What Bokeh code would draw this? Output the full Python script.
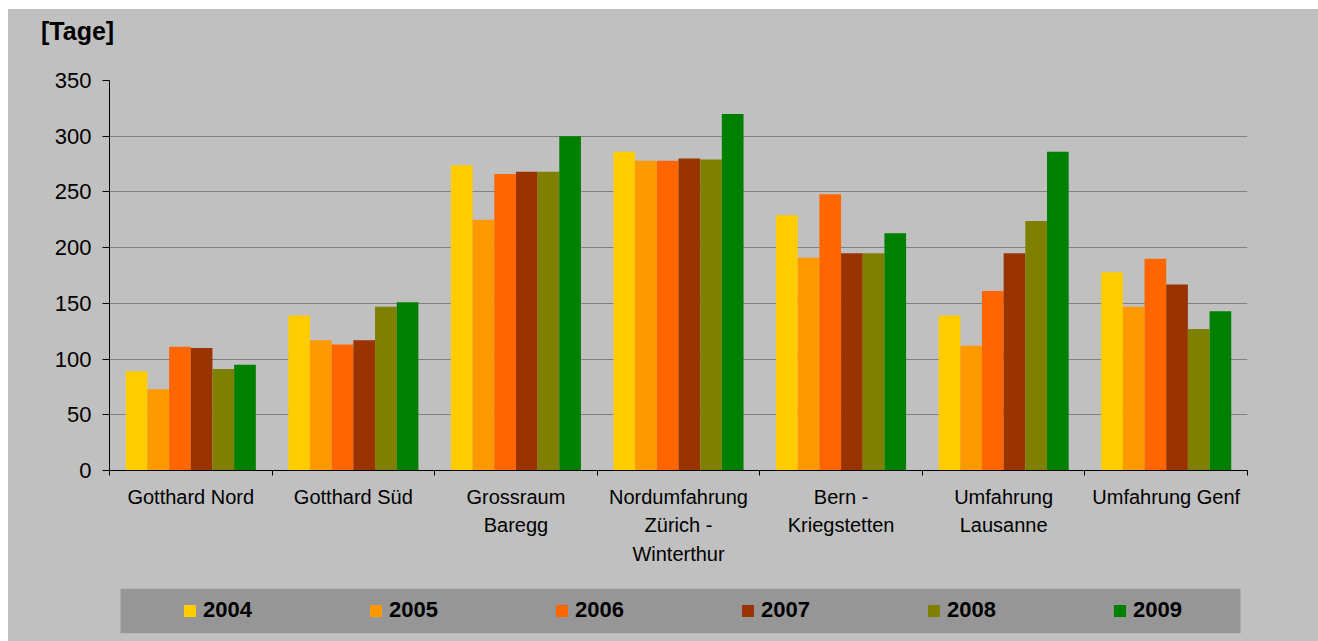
from bokeh.plotting import figure
from bokeh.models import (Range1d, FixedTicker, Div, Legend, LegendItem, BoxAnnotation,
                          Spacer, ColumnDataSource)
from bokeh.layouts import column, row
from bokeh.embed import file_html
from bokeh.resources import INLINE

# Road sections (x categories)
sections = ["Gotthard Nord", "Gotthard Süd", "Grossraum\nBaregg",
            "Nordumfahrung\nZürich -\nWinterthur", "Bern -\nKriegstetten",
            "Umfahrung\nLausanne", "Umfahrung Genf"]

years = ["2004", "2005", "2006", "2007", "2008", "2009"]

# Days per year and section
days_2004 = [89, 139, 274, 286, 229, 139, 178]
days_2005 = [73, 117, 225, 278, 191, 112, 147]
days_2006 = [111, 113, 266, 278, 248, 161, 190]
days_2007 = [110, 117, 268, 280, 195, 195, 167]
days_2008 = [91, 147, 268, 279, 195, 224, 127]
days_2009 = [95, 151, 300, 320, 213, 286, 143]

y_ticks = [0, 50, 100, 150, 200, 250, 300, 350]

series = [days_2004, days_2005, days_2006, days_2007, days_2008, days_2009]
colors = ["#FFCC00", "#FF9900", "#FF6600", "#993300", "#808000", "#008000"]

FONT = "Liberation Sans"
BG = "#C0C0C0"

n_sec = len(sections)
n_yr = len(years)
bar_w = 0.8 / n_yr
centers = [i + 0.5 for i in range(n_sec)]
edges = list(range(n_sec + 1))

W = 1310

# unit caption strip above the chart
header = Div(text=('<div style="font-family: \'Liberation Sans\', Arial, sans-serif; '
                   'font-size: 25px; font-weight: bold; color: black; line-height: normal; '
                   'margin: 8px 0 0 33px; white-space: nowrap;">[Tage]</div>'),
             width=W, height=59, margin=0, styles={"background-color": BG})

p = figure(width=W, height=512, x_range=Range1d(0, n_sec), y_range=Range1d(0, 350),
           output_backend="svg", toolbar_location=None,
           background_fill_color=None, border_fill_color=BG, outline_line_color=None,
           min_border_left=101, min_border_right=71, min_border_top=12, min_border_bottom=110)

# names centred under each group, short ticks on the group boundaries
xa = p.xaxis[0]
xa.ticker = FixedTicker(ticks=centers, minor_ticks=edges)
xa.major_label_overrides = {c: s for c, s in zip(centers, sections)}
xa.axis_line_color = "black"
xa.major_tick_line_color = None
xa.major_tick_out = 0
xa.major_tick_in = 0
xa.minor_tick_line_color = "black"
xa.minor_tick_out = 5
xa.minor_tick_in = 0
xa.major_label_standoff = 10
xa.major_label_text_font = FONT
xa.major_label_text_font_size = "20px"
xa.major_label_text_color = "black"
xa.major_label_text_line_height = 1.3

ya = p.yaxis[0]
ya.ticker = FixedTicker(ticks=y_ticks)
ya.major_label_text_font = FONT
ya.major_label_text_font_size = "22px"
ya.major_label_text_color = "black"
ya.major_label_standoff = 11
ya.major_tick_out = 7
ya.major_tick_in = 0
ya.minor_tick_line_color = None
ya.axis_line_color = "black"
ya.major_tick_line_color = "black"

p.xgrid.grid_line_color = None
p.ygrid.grid_line_color = "#808080"
p.ygrid.grid_line_width = 1

for i, (s, c) in enumerate(zip(series, colors)):
    off = -0.4 + bar_w / 2 + i * bar_w
    src = ColumnDataSource({"x": [x + off for x in centers], "top": s})
    p.vbar(x="x", top="top", width=bar_w, source=src, fill_color=c, line_color=None)

# legend strip below the chart
q = figure(width=W, height=61, x_range=Range1d(0, 1), y_range=Range1d(0, 1),
           output_backend="svg", toolbar_location=None,
           background_fill_color=None, border_fill_color=BG, outline_line_color=None,
           min_border_left=101, min_border_right=71, min_border_top=8, min_border_bottom=8)
q.axis.visible = False
q.grid.visible = False
q.add_layout(BoxAnnotation(left=11 / 1138, right=1131 / 1138, fill_color="#969696",
                           fill_alpha=1, line_color=None, level="underlay"))
items = []
for y, c in zip(years, colors):
    # swatch carriers kept outside the visible range
    r = q.vbar(x=[-1], top=[0], width=0.1, fill_color=c, line_color=None)
    items.append(LegendItem(label=y, renderers=[r]))
legend = Legend(items=items, orientation="horizontal", location=(73, 10),
                glyph_width=15, glyph_height=15, label_standoff=6, label_width=60,
                label_height=15, spacing=105, padding=0, margin=0,
                background_fill_alpha=0, border_line_color=None,
                label_text_font=FONT, label_text_font_size="22px",
                label_text_font_style="bold", label_text_color="black")
q.add_layout(legend, "center")

chart = column(header, p, q, styles={"background-color": BG})
layout = column(Spacer(width=1318, height=9),
                row(Spacer(width=8, height=632), chart))

open("out.html", "w").write(file_html(layout, INLINE))
